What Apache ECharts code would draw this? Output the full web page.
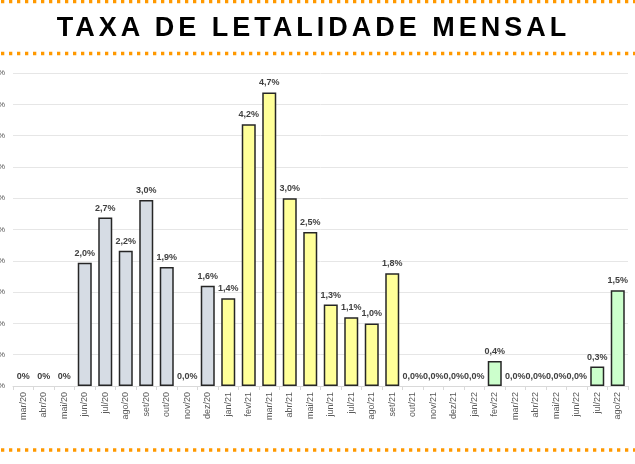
<!DOCTYPE html>
<html>
<head>
<meta charset="utf-8">
<script src="https://cdn.jsdelivr.net/npm/echarts@6/dist/echarts.min.js"></script>
<style>
  html, body { margin: 0; padding: 0; background: #fff; }
  #wrap { position: relative; width: 635px; height: 464px; overflow: hidden; }
  #chart { position: absolute; left: 0; top: 0; width: 635px; height: 464px; }
  #title {
    position: absolute; left: 0; top: 12px; width: 635px; text-align: center;
    font-family: 'Liberation Sans', Arial, sans-serif; font-weight: bold;
    font-size: 27px; letter-spacing: 4px; color: #000;
    box-sizing: border-box; margin-left: -4px;
  }
</style>
</head>
<body>
<div id="wrap">
  <div id="chart"></div>
  <div id="title">TAXA DE LETALIDADE MENSAL</div>
</div>
<script>
const categories = ['mar/20', 'abr/20', 'mai/20', 'jun/20', 'jul/20', 'ago/20', 'set/20', 'out/20', 'nov/20', 'dez/20',
  'jan/21', 'fev/21', 'mar/21', 'abr/21', 'mai/21', 'jun/21', 'jul/21', 'ago/21', 'set/21', 'out/21',
  'nov/21', 'dez/21', 'jan/22', 'fev/22', 'mar/22', 'abr/22', 'mai/22', 'jun/22', 'jul/22', 'ago/22']
const values = [0, 0, 0, 1.97, 2.69, 2.16, 2.97, 1.9, 0, 1.6,
  1.4, 4.18, 4.69, 3.0, 2.46, 1.3, 1.1, 1.0, 1.8, 0,
  0, 0, 0, 0.4, 0, 0, 0, 0, 0.31, 1.53]
const valueLabels = ['0%', '0%', '0%', '2,0%', '2,7%', '2,2%', '3,0%', '1,9%', '0,0%', '1,6%',
  '1,4%', '4,2%', '4,7%', '3,0%', '2,5%', '1,3%', '1,1%', '1,0%', '1,8%', '0,0%',
  '0,0%', '0,0%', '0,0%', '0,4%', '0,0%', '0,0%', '0,0%', '0,0%', '0,3%', '1,5%']
const yTicks = ['0,0%', '0,5%', '1,0%', '1,5%', '2,0%', '2,5%', '3,0%', '3,5%', '4,0%', '4,5%', '5,0%']

const yearColors = { '20': '#D6DCE4', '21': '#FFFF99', '22': '#CCFFCC' }

const chart = echarts.init(document.getElementById('chart'))

const dotted = y => ({
  type: 'line',
  shape: { x1: 1, y1: y, x2: 635, y2: y },
  style: { stroke: '#FF9900', lineWidth: 3.3, lineDash: [3.3, 4.7] },
  silent: true
})

chart.setOption({
  animation: false,
  backgroundColor: '#fff',
  grid: { left: 13, right: 7, top: 73, height: 313, outerBoundsMode: 'none', containLabel: false },
  graphic: [dotted(1.5), dotted(53.5), dotted(450)],
  xAxis: {
    type: 'category',
    data: categories,
    axisLine: { lineStyle: { color: '#D9D9D9', width: 1 } },
    axisTick: { show: true, length: 4, lineStyle: { color: '#D9D9D9' } },
    axisLabel: {
      rotate: 90, interval: 0, color: '#595959', fontSize: 9,
      fontFamily: 'Liberation Sans, Arial, sans-serif', margin: 6
    }
  },
  yAxis: {
    type: 'value',
    min: 0, max: 5, interval: 0.5,
    axisLine: { show: false },
    axisTick: { show: false },
    splitLine: { lineStyle: { color: '#E6E6E6', width: 1 } },
    axisLabel: {
      color: '#595959', fontSize: 8, margin: 8,
      fontFamily: 'Liberation Sans, Arial, sans-serif',
      formatter: (v) => yTicks[Math.round(v / 0.5)]
    }
  },
  series: [{
    type: 'bar',
    barWidth: 14,
    data: values.map((v, i) => ({
      value: v,
      itemStyle: {
        color: yearColors[categories[i].slice(-2)],
        borderWidth: v === 0 ? 0 : 1.5
      }
    })),
    itemStyle: { borderColor: '#262626' },
    label: {
      show: true, position: 'top', distance: 5,
      color: '#404040', fontSize: 9, fontWeight: 'bold',
      fontFamily: 'Liberation Sans, Arial, sans-serif',
      formatter: (p) => valueLabels[p.dataIndex]
    }
  }]
})
</script>
</body>
</html>
